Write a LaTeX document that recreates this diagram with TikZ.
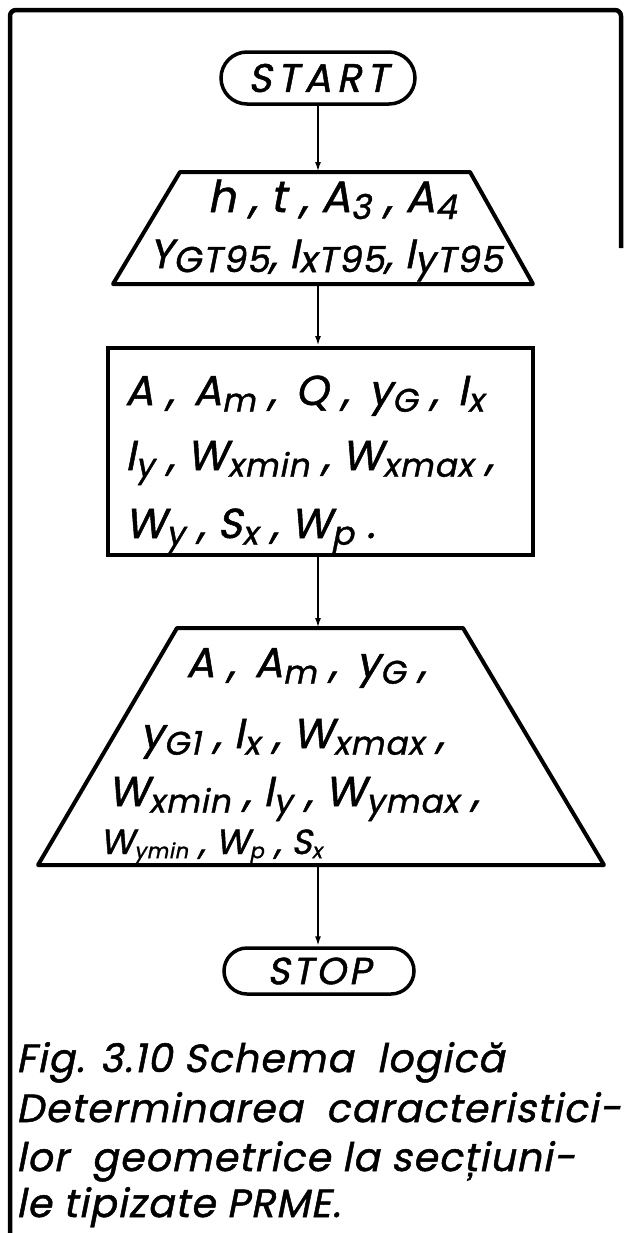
\documentclass[tikz,border=0pt]{standalone}
\usepackage{graphicx}
\usepackage{fontspec}
\setmainfont{Poppins}[FakeSlant=0.2, FakeBold=1.2, LetterSpace=3]
\usetikzlibrary{shapes.misc,arrows.meta}
\newcommand\sbx[1]{\raisebox{-0.16em}{\scalebox{0.78}{#1}}}
\newcommand\sbbig[1]{\raisebox{-0.1em}{\scalebox{0.88}{#1}}}
\newcommand\sbsm[1]{\raisebox{-0.12em}{\scalebox{0.6}{#1}}}
\begin{document}
\begin{tikzpicture}[x=1bp,y=-1bp,
  frame/.style={line width=4.5bp, rounded corners=6bp},
  term/.style={draw, rounded rectangle, line width=3.5bp, minimum width=194bp, minimum height=52bp, inner sep=0pt},
  trapline/.style={line width=4bp, line join=round},
  procbox/.style={draw, rectangle, line width=4bp, inner sep=0pt},
  conn/.style={line width=2bp, -{Latex[length=10bp,width=6bp]}},
  txt/.style={font=\fontsize{42}{50}\selectfont, inner sep=0pt},
  captxt/.style={anchor=base west, inner sep=0pt, font=\fontsize{39.5}{50}\selectfont}
]
\useasboundingbox (0,0) rectangle (625,1233);
\draw[frame] (10,1240) -- (10,10) -- (621,10) -- (621,248);

\node[term, font=\fontsize{40}{40}\selectfont\addfontfeature{LetterSpace=14}] (start) at (318,78) {START};

% input trapezoid
\coordinate (in1tl) at (180,172);
\coordinate (in1tr) at (470,172);
\coordinate (in1br) at (533,284);
\coordinate (in1bl) at (113,284);
\coordinate (in1top) at (318,172);
\coordinate (in1bot) at (318,284);
\draw[trapline] (in1tl) -- (in1tr) -- (in1br) -- (in1bl) -- cycle;
\node[txt, anchor=base, font=\fontsize{44}{50}\selectfont] (in1a) at (332,212) {h , t , A\sbx{3} , A\sbx{4}};
\node[txt, anchor=base, font=\fontsize{41}{44}\selectfont] (in1b) at (326,268) {Y\sbbig{GT95}, I\sbbig{xT95}, I\sbbig{yT95}};

\node[procbox, minimum width=425bp, minimum height=207bp] (calc) at (320.5,451.5) {};
\node[txt, anchor=base west] (calca) at (125,405) {A ,\, A\sbx{m} ,\, Q ,\, y\sbx{G} ,\, I\sbx{x}};
\node[txt, anchor=base west] (calcb) at (125,470) {I\sbx{y} , W\sbx{xmin} , W\sbx{xmax} ,};
\node[txt, anchor=base west] (calcc) at (125,538) {W\sbx{y} , S\sbx{x} , W\sbx{p} .};

% output trapezoid
\coordinate (outtl) at (177,628);
\coordinate (outtr) at (463,628);
\coordinate (outbr) at (604,865);
\coordinate (outbl) at (38,865);
\coordinate (outtop) at (318,628);
\coordinate (outbot) at (318,865);
\draw[trapline] (outtl) -- (outtr) -- (outbr) -- (outbl) -- cycle;
\node[txt, anchor=base west] (outa) at (186,677) {A ,\, A\sbx{m} ,\, y\sbx{G} ,};
\node[txt, anchor=base west] (outb) at (140,748) {y\sbx{G1} , I\sbx{x} , W\sbx{xmax} ,};
\node[txt, anchor=base west] (outc) at (108,806) {W\sbx{xmin} , I\sbx{y} , W\sbx{ymax} ,};
\node[txt, anchor=base west, font=\fontsize{35}{40}\selectfont] (outd) at (100,854) {W\sbsm{ymin} , W\sbsm{p} , S\sbsm{x}};

\node[term, minimum width=190bp, minimum height=46bp, font=\fontsize{38}{40}\selectfont\addfontfeature{LetterSpace=8}] (stop) at (319,971) {STOP};

\draw[conn] (start.south) -- (in1top);
\draw[conn] (in1bot) -- (calc.north -| in1bot);
\draw[conn] (calc.south -| outtop) -- (outtop);
\draw[conn] (outbot) -- (stop.north -| outbot);

\node[captxt] (cap1) at (16,1072) {Fig. 3.10 Schema \ logică};
\node[captxt] (cap2) at (16,1122) {Determinarea \ caracteristici-};
\node[captxt] (cap3) at (16,1171) {lor \ geometrice la secțiuni-};
\node[captxt] (cap4) at (16,1217) {le tipizate PRME.};
\end{tikzpicture}
\end{document}
